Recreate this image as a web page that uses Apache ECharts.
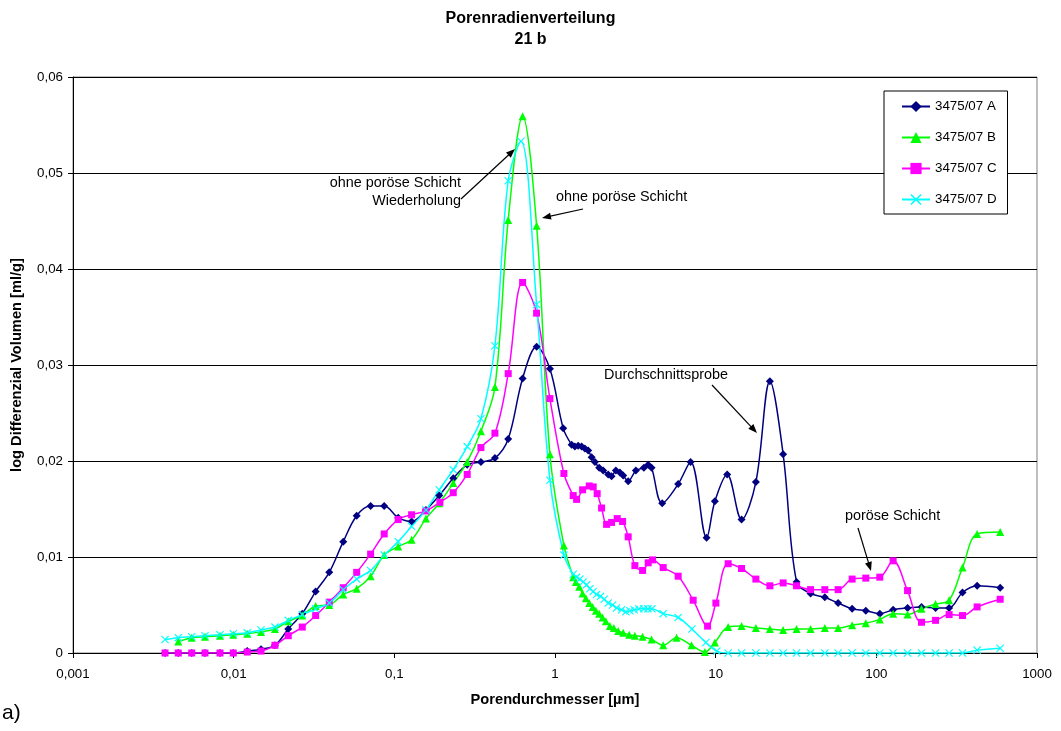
<!DOCTYPE html>
<html>
<head>
<meta charset="utf-8">
<script src="https://cdn.jsdelivr.net/npm/echarts@6/dist/echarts.min.js"></script>
<style>
html,body{margin:0;padding:0;background:#fff;}
#chart{width:1061px;height:731px;}
</style>
</head>
<body>
<div id="chart"></div>
<script>
// ---- data (pore diameter in µm, log differential volume in ml/g) ----
const seriesNames = ['3475/07 A', '3475/07 B', '3475/07 C', '3475/07 D'];
const xTickLabels = ['0,001', '0,01', '0,1', '1', '10', '100', '1000'];

const xA = [0.00374,0.00452,0.00548,0.00663,0.00822,0.00994,0.01215,0.01479,0.01807,0.02187,0.02673,0.03238,0.03935,0.0481,0.0583,0.0712,0.0865,
  0.1057,0.1281,0.1573,0.1903,0.2326,0.2842,0.3459,0.4227,0.5114,0.6287,0.7683,0.9297,
  1.125,1.269,1.330,1.394,1.464,1.535,1.609,1.690,1.772,1.884,1.995,2.143,2.250,2.393,2.535,2.657,2.854,
  3.187,3.575,3.802,3.992,4.647,5.843,6.981,8.779,9.886,
  11.79,14.49,17.79,21.75,26.30,31.87,38.95,47.80,57.84,70.70,86.0,105.1,127.2,156.4,191.1,233.6,283.8,343.9,424.0,590];
const yA = [0,0,0,0,0,0,0.0002,0.0004,0.0008,0.0025,0.0041,0.0064,0.0084,0.0116,0.0143,0.0153,0.0153,
  0.0141,0.0137,0.0149,0.0164,0.0182,0.0196,0.0199,0.0203,0.0223,0.0286,0.0319,0.0296,
  0.0234,0.0217,0.0215,0.0216,0.0215,0.0213,0.0211,0.0204,0.0199,0.0193,0.019,0.0186,0.0184,0.019,0.0188,0.0185,0.0179,
  0.019,0.0193,0.0196,0.0193,0.0156,0.0176,0.0199,0.012,0.0158,
  0.0186,0.0139,0.0178,0.0283,0.0207,0.0074,0.0062,0.0058,0.0052,0.0046,0.0044,0.0041,0.0045,0.0047,0.0048,0.0047,0.0047,0.0063,0.007,0.0068];

const xB = [0.00452,0.00548,0.00663,0.00822,0.00994,0.01215,0.01479,0.01807,0.02187,0.02673,0.03238,0.03935,0.0481,0.0583,0.0712,0.0865,
  0.1057,0.1281,0.1573,0.1903,0.2326,0.2842,0.3459,0.4227,0.5114,0.6287,0.7683,0.9297,
  1.136,1.298,1.349,1.414,1.485,1.557,1.633,1.714,1.797,1.884,1.978,2.073,2.195,2.325,2.474,2.657,2.895,3.142,
  3.509,3.992,4.713,5.711,7.079,8.567,9.886,
  11.96,14.49,17.79,21.75,26.30,31.87,38.95,47.80,57.84,70.70,86.0,105.1,127.2,156.4,191.1,233.6,283.8,343.9,424.0,590];
const yB = [0.0012,0.0016,0.0017,0.0018,0.0019,0.002,0.0022,0.0025,0.0033,0.0039,0.0049,0.005,0.0061,0.0067,0.008,0.0102,
  0.0111,0.0118,0.014,0.0156,0.0177,0.0199,0.0231,0.0277,0.0451,0.0559,0.0445,0.0207,
  0.0112,0.0079,0.0074,0.0069,0.0062,0.0057,0.0052,0.0048,0.0044,0.0041,0.0037,0.0033,0.0028,0.0026,0.0023,0.0021,0.0019,0.0018,
  0.0017,0.0014,0.0008,0.0016,0.0008,0.0001,0.0011,
  0.0027,0.0028,0.0026,0.0025,0.0024,0.0025,0.0025,0.0026,0.0026,0.0029,0.0031,0.0035,0.0041,0.004,0.0046,0.0051,0.0055,0.0089,0.0124,0.0126];

const xC = [0.00374,0.00452,0.00548,0.00663,0.00822,0.00994,0.01215,0.01479,0.01807,0.02187,0.02673,0.03238,0.03935,0.0481,0.0583,0.0712,0.0865,
  0.1057,0.1281,0.1573,0.1922,0.2326,0.2842,0.3459,0.4227,0.5114,0.6287,0.7683,0.9297,
  1.136,1.298,1.363,1.485,1.633,1.729,1.830,1.950,2.095,2.250,2.439,2.634,2.854,
  3.142,3.509,3.802,4.049,4.713,5.843,7.244,8.906,10.03,
  11.96,14.49,17.79,21.75,26.30,31.87,38.95,47.80,57.84,70.70,86.0,105.1,127.2,156.4,191.1,233.6,283.8,343.9,424.0,590];
const yC = [0,0,0,0,0,0,0.0001,0.0002,0.0008,0.0018,0.0027,0.0039,0.0053,0.0068,0.0084,0.0103,0.0124,
  0.0139,0.0144,0.0148,0.0157,0.0167,0.0186,0.0214,0.0229,0.0291,0.0386,0.0354,0.0265,
  0.0187,0.0164,0.016,0.017,0.0174,0.0173,0.0166,0.0151,0.0134,0.0136,0.014,0.0137,0.0121,
  0.0091,0.0086,0.0094,0.0097,0.0089,0.008,0.0055,0.0028,0.0052,
  0.0093,0.0088,0.0077,0.007,0.0073,0.007,0.0066,0.0066,0.0066,0.0077,0.0078,0.0079,0.0096,0.0065,0.0032,0.0034,0.004,0.0039,0.0048,0.0056];

const xD = [0.00374,0.00452,0.00548,0.00663,0.00822,0.00994,0.01215,0.01479,0.01807,0.02187,0.02673,0.03238,0.03935,0.0481,0.0583,0.0712,0.0865,
  0.1057,0.1281,0.1573,0.1903,0.2326,0.2842,0.3459,0.4227,0.5114,0.614,0.7683,0.9297,
  1.136,1.298,1.363,1.428,1.498,1.573,1.649,1.729,1.815,1.922,2.024,2.143,2.283,2.418,2.597,2.762,2.925,3.111,3.327,3.575,3.785,4.009,
  4.713,5.843,7.110,8.690,10.17,
  11.96,14.49,17.79,21.75,26.30,31.87,38.95,47.80,57.84,70.70,86.0,105.1,127.2,156.4,191.1,233.6,283.8,343.9,424.0,590];
const yD = [0.0014,0.0016,0.0017,0.0018,0.0019,0.002,0.0021,0.0024,0.0027,0.0034,0.004,0.0046,0.0052,0.0066,0.0077,0.0086,0.0102,
  0.0116,0.0132,0.0149,0.017,0.0191,0.0215,0.0244,0.032,0.0492,0.0533,0.0363,0.018,
  0.0102,0.0082,0.0079,0.0077,0.0074,0.0071,0.0067,0.0064,0.0061,0.0059,0.0056,0.0052,0.005,0.0047,0.0045,0.0043,0.0044,0.0045,0.0046,0.0046,0.0046,0.0046,
  0.0041,0.0037,0.0025,0.0011,0.0002,
  0,0,0,0,0,0, 0,0,0,0,0,0, 0,0,0,0,0,0, 0.0003,0.0005];

// ---- chart ----
const FONT = 'Arial, "Liberation Sans", sans-serif';
const zip = (xs, ys) => xs.map((x, i) => [x, ys[i]]);
const xPath = 'path://M0,1 L1,0 L5,4 L9,0 L10,1 L6,5 L10,9 L9,10 L5,6 L1,10 L0,9 L4,5 Z';

function mkSeries(name, xs, ys, color, symbol, size) {
  return {
    name, type: 'line', data: zip(xs, ys), smooth: 0.35,
    symbol, symbolSize: size, showSymbol: true,
    lineStyle: { color, width: 1.5 },
    itemStyle: { color, borderColor: color, borderWidth: 0 },
    emphasis: { disabled: true }, animation: false
  };
}

function arrow(x1, y1, x2, y2) {
  const a = Math.atan2(y2 - y1, x2 - x1), L = 9, W = 3.5;
  const c = Math.cos(a), s = Math.sin(a);
  return [
    { type: 'line', shape: { x1, y1, x2: x2 - c * 4, y2: y2 - s * 4 }, style: { stroke: '#000', lineWidth: 1.2 }, z: 100 },
    { type: 'polygon', shape: { points: [[x2, y2], [x2 - L * c + W * s, y2 - L * s - W * c], [x2 - L * c - W * s, y2 - L * s + W * c]] }, style: { fill: '#000' }, z: 100 }
  ];
}
function label(text, x, y, align, size) {
  return { type: 'text', x, y, z: 100,
    style: { text, fill: '#000', font: (size || 14.4) + 'px ' + FONT, textAlign: align || 'left', textVerticalAlign: 'middle' } };
}

const chart = echarts.init(document.getElementById('chart'), null, { renderer: 'canvas' });
const fmtNum = v => { const n = +(+v).toPrecision(3); return n === 0 ? '0' : String(n).replace('.', ','); };

chart.setOption({
  backgroundColor: '#fff',
  animation: false,
  title: {
    text: 'Porenradienverteilung\n21 b',
    left: 'center', top: 3,
    textStyle: { fontFamily: FONT, fontSize: 16, fontWeight: 'bold', color: '#000', lineHeight: 21 }
  },
  grid: { left: 73, right: 24, top: 77, bottom: 78, show: true, borderColor: '#808080', borderWidth: 1, backgroundColor: 'transparent' },
  legend: {
    orient: 'vertical', left: 884, top: 91,
    itemGap: 18, itemWidth: 28, itemHeight: 14,
    padding: [9, 11, 8, 17],
    borderColor: '#000', borderWidth: 1, backgroundColor: '#fff',
    textStyle: { fontFamily: FONT, fontSize: 13.33, color: '#000' },
    data: seriesNames
  },
  xAxis: {
    type: 'log', logBase: 10, min: 0.001, max: 1000, splitNumber: 6,
    name: 'Porendurchmesser [µm]', nameLocation: 'middle', nameGap: 39,
    nameTextStyle: { fontFamily: FONT, fontSize: 14.67, fontWeight: 'bold', color: '#000' },
    axisLine: { lineStyle: { color: '#000', width: 1 } },
    axisTick: { show: true, inside: false, length: 5, lineStyle: { color: '#000' } },
    minorTick: { show: false },
    splitLine: { show: false },
    axisLabel: { margin: 15, fontFamily: FONT, fontSize: 13.33, color: '#000',
      formatter: v => { const i = Math.round(Math.log10(v)) + 3; return xTickLabels[i] !== undefined ? xTickLabels[i] : fmtNum(v); } }
  },
  yAxis: {
    type: 'value', min: 0, max: 0.06, interval: 0.01,
    name: 'log Differenzial Volumen [ml/g]', nameLocation: 'middle', nameGap: 49,
    nameTextStyle: { fontFamily: FONT, fontSize: 14.67, fontWeight: 'bold', color: '#000' },
    axisLine: { show: true, lineStyle: { color: '#000', width: 1 } },
    axisTick: { show: true, length: 5, lineStyle: { color: '#000' } },
    splitLine: { show: true, lineStyle: { color: '#000', width: 1 } },
    axisLabel: { margin: 10, fontFamily: FONT, fontSize: 13.33, color: '#000',
      formatter: v => v === 0 ? '0' : v.toFixed(2).replace('.', ',') }
  },
  series: [
    mkSeries(seriesNames[0], xA, yA, '#000080', 'diamond', 8),
    mkSeries(seriesNames[1], xB, yB, '#00FF00', 'triangle', 8),
    mkSeries(seriesNames[2], xC, yC, '#FF00FF', 'rect', 7),
    mkSeries(seriesNames[3], xD, yD, '#00FFFF', xPath, 8)
  ],
  graphic: [].concat(
    [label('ohne poröse Schicht', 461, 183, 'right'),
     label('Wiederholung', 461, 201, 'right'),
     label('ohne poröse Schicht', 556, 197, 'left'),
     label('Durchschnittsprobe', 604, 375, 'left'),
     label('poröse Schicht', 845, 516, 'left'),
     label('a)', 2, 713, 'left', 21)],
    arrow(461, 199, 515, 149),
    arrow(583, 209, 542, 218),
    arrow(712, 385, 757, 433),
    arrow(858, 528, 871, 571)
  )
});
</script>
</body>
</html>
